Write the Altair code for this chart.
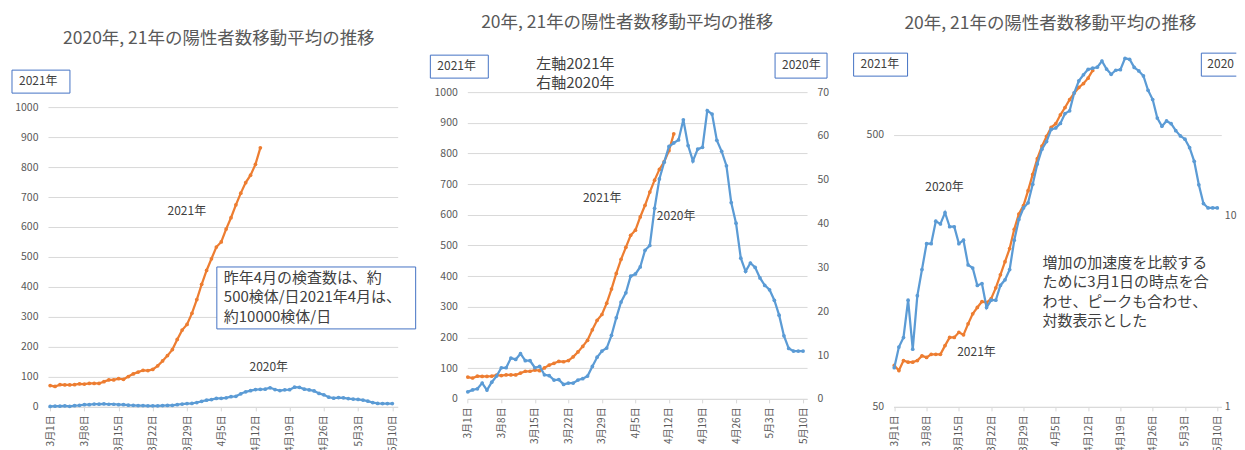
import json
import altair as alt
import pandas as pd

# ---------------- data ----------------
tick_labels = ["3月1日", "3月8日", "3月15日", "3月22日", "3月29日", "4月5日",
               "4月12日", "4月19日", "4月26日", "5月3日", "5月10日"]
dates = [d.strftime("%m-%d") for d in pd.date_range("2021-03-01", "2021-05-10")]

cases_2021 = [71, 68, 74, 73, 73, 74, 77, 76, 78, 78,
              78, 84, 90, 90, 94, 92, 101, 110, 116, 122,
              121, 125, 137, 153, 171, 191, 225, 256, 275, 312,
              358, 409, 455, 494, 533, 550, 593, 631, 674, 713,
              748, 773, 809, 864]

cases_2020 = [1.6, 2.05, 2.3, 3.6, 2.0, 3.8, 5.2, 7.1, 7.1, 9.3,
              9.0, 10.3, 8.7, 8.7, 7.1, 7.4, 5.5, 5.3, 4.3, 4.4,
              3.3, 3.6, 3.6, 4.3, 4.6, 5.2, 7.4, 9.5, 10.9, 11.6,
              14.5, 18.5, 22.1, 24.2, 28.0, 28.5, 30.1, 33.9, 35.0, 43.5,
              50.2, 54.0, 57.6, 58.4, 59.1, 63.7, 57.8, 54.3, 57.0, 57.4,
              65.8, 65.0, 59.0, 56.5, 53.2, 44.8, 40.1, 32.1, 29.1, 31.0,
              30.0, 27.6, 25.9, 24.9, 22.5, 19.1, 14.4, 11.5, 10.9, 10.9,
              10.9]

title_text_1 = "2020年, 21年の陽性者数移動平均の推移"
title_text_2 = "20年, 21年の陽性者数移動平均の推移"
note_1 = ["昨年4月の検査数は、約", "500検体/日2021年4月は、", "約10000検体/日"]
note_2 = ["左軸2021年", "右軸2020年"]
note_3 = ["増加の加速度を比較する", "ために3月1日の時点を合", "わせ、ピークも合わせ、", "対数表示とした"]

df21 = pd.DataFrame({"day": list(range(len(cases_2021))), "date": dates[:len(cases_2021)],
                     "value": cases_2021})
df20 = pd.DataFrame({"day": list(range(len(cases_2020))), "date": dates, "value": cases_2020})

ORANGE = "#ED7D31"
BLUE = "#5B9BD5"
GRID = "#D9D9D9"
LABEL = "#595959"
TEXT = "#404040"
BOX = "#4472C4"
FONT = "Noto Sans CJK JP"

label_expr = json.dumps(tick_labels, ensure_ascii=False) + "[round(datum.value / 7)]"
one = pd.DataFrame({"a": [0]})


def xenc(domain):
    return alt.X("day:Q",
                 scale=alt.Scale(domain=domain, nice=False, zero=False),
                 axis=alt.Axis(values=list(range(0, 71, 7)), labelExpr=label_expr,
                               labelAngle=-90, labelFlush=False, labelOverlap=False,
                               labelFontSize=10, labelColor=LABEL, labelPadding=4,
                               grid=False, domainColor=GRID, tickColor=GRID, tickSize=4,
                               title=None))


def yaxis(values, orient="left", grid=True, pad=10):
    return alt.Axis(values=values, orient=orient, grid=grid, gridColor=GRID, domain=False,
                    ticks=False, labelPadding=pad, labelColor=LABEL, labelFontSize=10.5,
                    labelFlush=False, format="d", title=None)


def series(df, color, xdom, y):
    return alt.Chart(df).mark_line(
        color=color, strokeWidth=2.25,
        point=alt.OverlayMarkDef(color=color, size=14, filled=True, opacity=1)
    ).encode(x=xenc(xdom), y=y)


def txt(s, x, y, size=12, align="center", color=TEXT, limit=None):
    kw = dict(text=s, fontSize=size, align=align, baseline="middle", color=color, font=FONT)
    if limit:
        kw.update(limit=limit, ellipsis="\u200b")
    return alt.Chart(one).mark_text(**kw).encode(x=alt.value(x), y=alt.value(y))


def box(x1, x2, y1, y2):
    return alt.Chart(one).mark_rect(fill="white", stroke=BOX, strokeWidth=1).encode(
        x=alt.value(x1), x2=alt.value(x2), y=alt.value(y1), y2=alt.value(y2))


def open_box(x1, x2, y1, y2):
    """Box cut off by the right edge of the picture (no right border)."""
    fill = alt.Chart(one).mark_rect(fill="white", strokeWidth=0).encode(
        x=alt.value(x1), x2=alt.value(x2), y=alt.value(y1), y2=alt.value(y2))
    top = alt.Chart(one).mark_rule(color=BOX, strokeWidth=1).encode(
        x=alt.value(x1), x2=alt.value(x2), y=alt.value(y1))
    bottom = alt.Chart(one).mark_rule(color=BOX, strokeWidth=1).encode(
        x=alt.value(x1), x2=alt.value(x2), y=alt.value(y2))
    left = alt.Chart(one).mark_rule(color=BOX, strokeWidth=1).encode(
        x=alt.value(x1), y=alt.value(y1), y2=alt.value(y2))
    return [fill, top, bottom, left]


# ---------------- panel 1 ----------------
xd1 = [-0.45, 71.1]
y1 = alt.Y("value:Q", scale=alt.Scale(domain=[0, 1180], nice=False),
           axis=yaxis(list(range(0, 1001, 100))))
p1 = alt.layer(
    series(df21, ORANGE, xd1, y1),
    series(df20, BLUE, xd1, y1),
    txt(title_text_1, 171, -14, size=17.5, color=LABEL),
    box(-36, 22, 17, 40), txt("2021年", -29, 28, align="left"),
    txt("2021年", 139, 158),
    txt("2020年", 221, 314),
    box(169, 368, 214, 276),
    txt(note_1[0], 176, 225, size=15, align="left"),
    txt(note_1[1], 176, 244.5, size=15, align="left"),
    txt(note_1[2], 176, 264, size=15, align="left"),
).properties(width=350, height=354)

# ---------------- panel 2 ----------------
xd2 = [-0.1, 70.83]
y2l = alt.Y("value:Q", scale=alt.Scale(domain=[0, 1127], nice=False),
            axis=yaxis(list(range(0, 1001, 100))))
y2r = alt.Y("value:Q", scale=alt.Scale(domain=[0, 78.9], nice=False),
            axis=yaxis(list(range(0, 71, 10)), orient="right", grid=False))
p2 = alt.layer(
    series(df21, ORANGE, xd2, y2l),
    series(df20, BLUE, xd2, y2r),
    txt(title_text_2, 160, -30, size=17.5, color=LABEL),
    box(-37, 21, 2, 25), txt("2021年", -30, 13, align="left"),
    box(308, 360, 0, 25), txt("2020年", 315, 12, align="left"),
    txt(note_2[0], 69, 11, size=15, align="left"),
    txt(note_2[1], 69, 30, size=15, align="left"),
    txt("2021年", 135, 145),
    txt("2020年", 209, 163),
).resolve_scale(y="independent").properties(width=340, height=346)

# ---------------- panel 3 ----------------
xd3 = [-0.15, 70.87]
y3l = alt.Y("value:Q", scale=alt.Scale(type="log", domain=[50, 1000], nice=False),
            axis=yaxis([50, 500]))
y3r = alt.Y("value:Q", scale=alt.Scale(type="log", domain=[1, 70], nice=False),
            axis=yaxis([1, 10], orient="right", grid=False, pad=3))
p3 = alt.layer(
    series(df21, ORANGE, xd3, y3l),
    series(df20, BLUE, xd3, y3r),
    txt(title_text_2, 157, -29, size=17.5, color=LABEL),
    box(-40, 14, 0, 23), txt("2021年", -33, 11, align="left"),
    *open_box(308, 343, 0, 23), txt("2020年", 314, 11, align="left", limit=29),
    txt("2020年", 51, 134),
    txt("2021年", 83, 299),
    txt(note_3[0], 149, 210, size=15, align="left"),
    txt(note_3[1], 149, 229.5, size=15, align="left"),
    txt(note_3[2], 149, 249, size=15, align="left"),
    txt(note_3[3], 149, 268.5, size=15, align="left"),
).resolve_scale(y="independent").properties(width=328, height=354)

inner = alt.HConcatChart(hconcat=[p2, p3], spacing=86.6, bounds="flush")
chart = alt.HConcatChart(hconcat=[p1, inner], spacing=69.7, bounds="flush").properties(
    padding={"left": 3, "top": 6, "right": 0, "bottom": 0}
).configure(font=FONT).configure_view(strokeWidth=0)

chart.save("out.html", embed_options={"renderer": "svg", "actions": False})
